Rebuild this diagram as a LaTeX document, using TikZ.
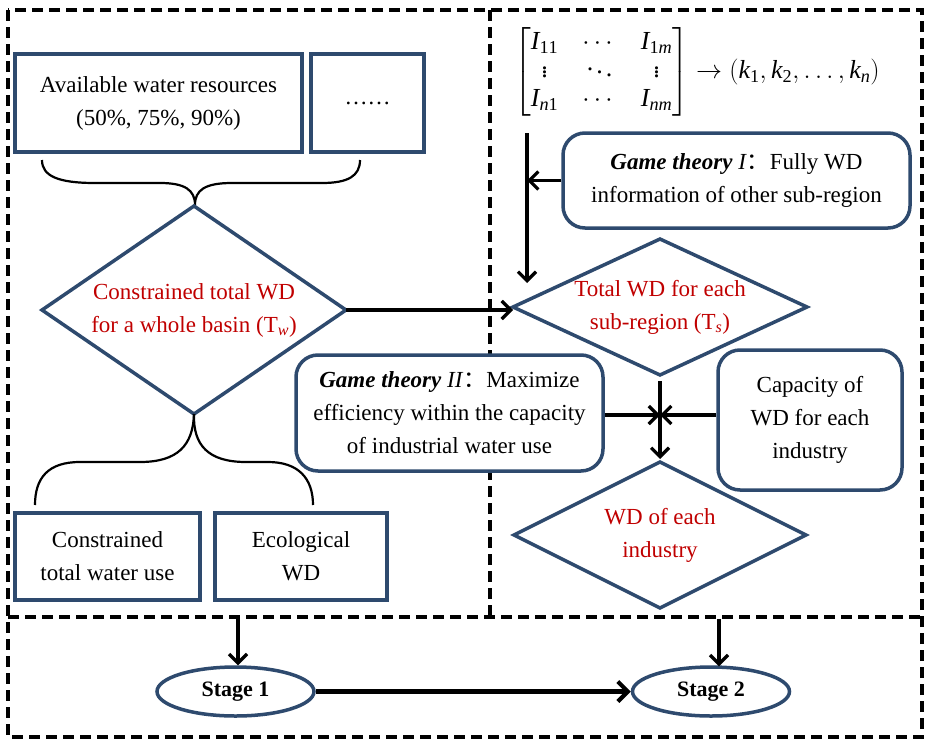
\RequirePackage{fix-cm}
\documentclass[tikz,border=0pt]{standalone}
\usepackage{amsmath}
\usepackage{fontspec}
\setmainfont{Liberation Serif}
\newfontfamily\cjk{Noto Sans CJK SC}
\usetikzlibrary{calc,arrows.meta,shapes.geometric}
\definecolor{boxblue}{HTML}{2E4A6E}
\definecolor{wdred}{HTML}{C00000}
\def\plainbox{\node[draw=boxblue,fill=white,line width=3.5pt,align=center,inner sep=0pt]}
\def\roundbox{\node[draw=boxblue,fill=white,line width=3.5pt,rounded corners=22pt,align=center,inner sep=0pt]}
\def\stagenode{\node[draw=boxblue,fill=white,line width=3.5pt,ellipse,inner sep=0pt,font=\fontsize{22}{26}\selectfont\bfseries]}
\def\dashframe{\draw[line width=3.2pt,dash pattern=on 11pt off 6pt]}
\def\flowarrow{\draw[line width=3.2pt,-{Straight Barb[length=9pt,width=18pt]}]}
\def\gtcolon{{\cjk ：}}
\newcommand{\mv}[2]{\mathit{#1}_{\mathrm{#2}}}
% diamond: name, x, y, half width, half height, text
\newcommand{\wddiamond}[6]{%
  \node[text=wdred,align=center,inner sep=0pt] (#1) at (#2,#3) {#6};
  \draw[boxblue,line width=3.5pt,line join=miter]
    (#2-#4,#3) coordinate (#1-w) -- (#2,#3-#5) coordinate (#1-n) --
    (#2+#4,#3) coordinate (#1-e) -- (#2,#3+#5) coordinate (#1-s) -- cycle;
}

\begin{document}
\begin{tikzpicture}[x=1pt,y=-1pt,every node/.style={font=\fontsize{23}{33}\selectfont}]
\useasboundingbox (0,0) rectangle (926,739);

% dashed frames of the two stages
\dashframe (8,10) rectangle (922,737);
\dashframe (8,617) -- (922,617);
\dashframe (490,10) -- (490,617);

% Stage 1: whole basin
\plainbox[minimum width=287pt,minimum height=98pt] (avail) at (158.5,103) {Available water resources\\(50\%, 75\%, 90\%)};
\plainbox[minimum width=113pt,minimum height=98pt] (more) at (367.5,103) {……};
\draw[line width=2.2pt] (42,160) .. controls (42,176) and (58,183) .. (95,183) -- (160,183)
  .. controls (185,183) and (195,190) .. (195,205)
  .. controls (195,190) and (205,183) .. (232,183) -- (322,183)
  .. controls (348,183) and (360,176) .. (360,160);
\wddiamond{basin}{194}{310}{152}{104}{Constrained total WD\\for a whole basin (T$_{\mathit{w}}$)}
\draw[line width=2.2pt] (basin-s) .. controls (193,445) and (178,462) .. (140,462) -- (80,462)
  .. controls (48,462) and (35,478) .. (35,505);
\draw[line width=2.2pt] (basin-s) .. controls (193,445) and (208,462) .. (246,462) -- (268,462)
  .. controls (298,462) and (313,478) .. (313,505);
\plainbox[minimum width=185pt,minimum height=87pt] (usecap) at (107.5,556.5) {Constrained\\total water use};
\plainbox[minimum width=172pt,minimum height=87pt] (eco) at (301,556.5) {Ecological\\WD};

% Stage 2: sub-regions and industries
\node[font=\fontsize{26}{30}\selectfont] (mat) at (697,72) {\renewcommand{\arraystretch}{0.95}\setlength{\arraycolsep}{12pt}%
  $\begin{bmatrix} \mv{I}{11} & \cdots & \mv{I}{1\mathit{m}}\\ \vdots & \ddots & \vdots\\ \mv{I}{\mathit{n}1} & \cdots & \mv{I}{\mathit{nm}}\end{bmatrix}\rightarrow(\mv{k}{1},\mv{k}{2},\dots,\mv{k}{\mathit{n}})$};
\roundbox[minimum width=347pt,minimum height=95pt] (game1) at (736.5,180.5) {\textbf{\textit{Game theory}} \textit{I}\gtcolon Fully WD\\information of other sub-region};
\coordinate (vtop) at (527,133);
\coordinate (vbot) at (527,283);
\flowarrow (vtop) -- (vbot);
\flowarrow (game1.west) -- (game1.west -| vtop);

\wddiamond{subreg}{660}{307}{147}{68}{Total WD for each\\sub-region (T$_{\mathit{s}}$)}
\flowarrow (basin-e) -- (basin-e -| subreg-w);

\roundbox[minimum width=307pt,minimum height=116pt] (game2) at (449.5,413) {\textbf{\textit{Game theory}} \textit{II}\gtcolon Maximize\\efficiency within the capacity\\of industrial water use};
\roundbox[minimum width=184pt,minimum height=140pt] (indcap) at (810,420) {Capacity of\\WD for each\\industry};
\wddiamond{industry}{660}{535}{146}{73}{WD of each\\industry}
\coordinate (meet) at (660,415);
\flowarrow ($(subreg-s)+(0,6)$) -- ($(industry-n)+(0,-3)$);
\flowarrow (game2.east |- meet) -- (meet);
\flowarrow (indcap.west |- meet) -- (meet);

% stages
\stagenode[minimum width=157pt,minimum height=49pt] (stage1) at (235.5,691.5) {Stage 1};
\stagenode[minimum width=157pt,minimum height=49pt] (stage2) at (711,691.5) {Stage 2};
\coordinate (s1in) at (238,619);
\coordinate (s2in) at (719,619);
\flowarrow (s1in) -- (s1in |- stage1.north);
\flowarrow (s2in) -- ($(s2in |- stage2.north)+(0,1)$);
\draw[line width=4.2pt,-{Straight Barb[length=10pt,width=20pt]}] (stage1.east) -- (stage2.west);
\end{tikzpicture}
\end{document}
